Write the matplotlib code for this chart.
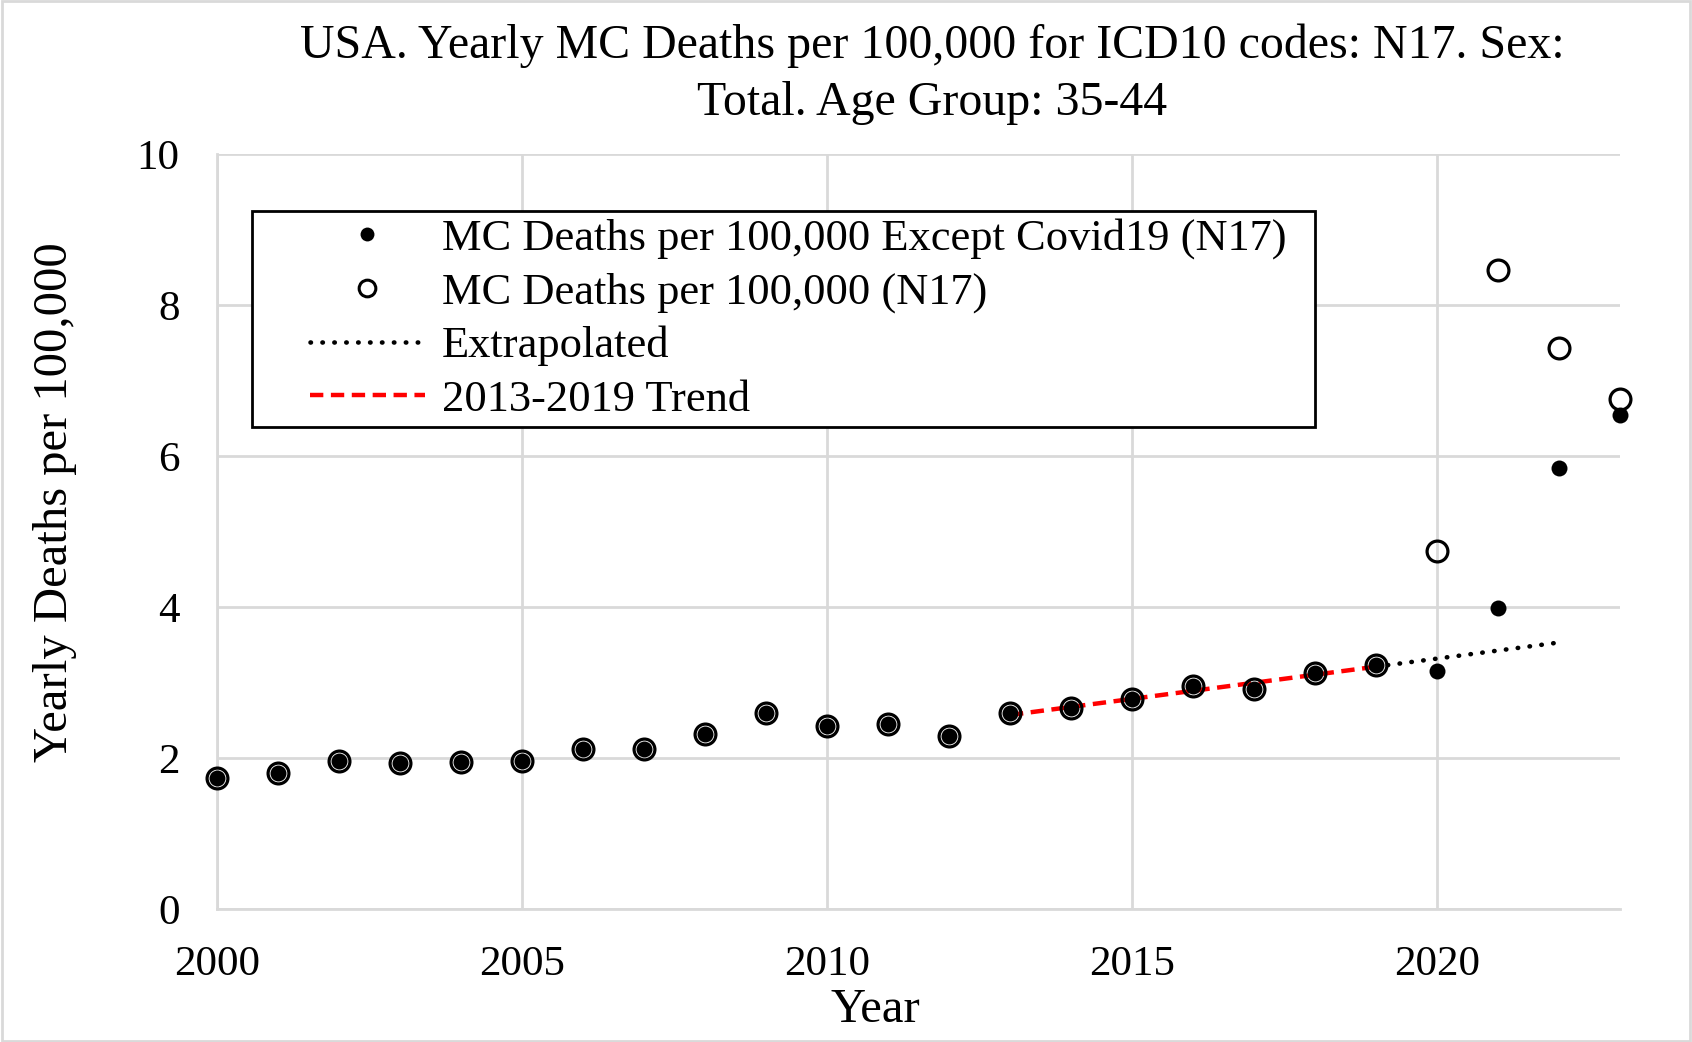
import matplotlib
matplotlib.use("Agg")
import matplotlib.pyplot as plt
from matplotlib.lines import Line2D
from matplotlib.patches import Rectangle
from matplotlib.legend_handler import HandlerLine2D

years = list(range(2000, 2024))
deaths_all = [1.73, 1.80, 1.96, 1.93, 1.95, 1.96, 2.12, 2.12, 2.32, 2.60,
              2.42, 2.45, 2.29, 2.59, 2.66, 2.78, 2.95, 2.92, 3.13, 3.23,
              4.74, 8.47, 7.43, 6.75]
deaths_ex_covid = [1.73, 1.80, 1.96, 1.93, 1.95, 1.96, 2.12, 2.12, 2.32, 2.60,
                   2.42, 2.45, 2.29, 2.59, 2.66, 2.78, 2.95, 2.92, 3.13, 3.23,
                   3.15, 3.99, 5.84, 6.54]
trend_years = [2013, 2019]
trend_vals = [2.57, 3.21]
extrap_years = [2019, 2022]
extrap_vals = [3.21, 3.53]


class ShiftHandler(HandlerLine2D):
    # leaves an empty gap on the left of the legend handle, like Excel does
    def __init__(self, shift=1.0, **kw):
        super().__init__(**kw)
        self.shift = shift

    def create_artists(self, legend, orig_handle, xdescent, ydescent, width, height, fontsize, trans):
        s = self.shift * fontsize
        return super().create_artists(legend, orig_handle, xdescent - s, ydescent,
                                      width - s, height, fontsize, trans)


plt.rcParams['font.family'] = ['Liberation Serif', 'DejaVu Serif']

fig = plt.figure(figsize=(16.92, 10.42), dpi=100)
ax = fig.add_axes([0.1283, 0.1276, 0.9574 - 0.1283, 0.8522 - 0.1276])

grid_c = '#d9d9d9'
dots = (0, (0.1, 2.5))
dashes = (0, (3.0, 1.7))
ax.plot(extrap_years, extrap_vals, color='black', lw=3.3,
        linestyle=dots, dash_capstyle='round', zorder=2)
ax.plot(trend_years, trend_vals, color='#ff0000', lw=3.2,
        linestyle=dashes, zorder=2)
ax.plot(years, deaths_ex_covid, 'o', color='black', ms=11.5, mew=0,
        linestyle='none', zorder=3, clip_on=False)
ax.plot(years, deaths_all, 'o', mfc='none', mec='black', ms=15, mew=2.3,
        linestyle='none', zorder=4, clip_on=False)

ax.set_xlim(2000, 2023)
ax.set_ylim(0, 10)
ax.set_xticks([2000, 2005, 2010, 2015, 2020])
ax.set_yticks([0, 2, 4, 6, 8, 10])
ax.grid(True, color=grid_c, lw=2)
ax.set_axisbelow(True)
for s in ['top', 'right']:
    ax.spines[s].set_visible(False)
for s in ['left', 'bottom']:
    ax.spines[s].set_color(grid_c)
    ax.spines[s].set_linewidth(2)
ax.tick_params(length=0, labelsize=31)
ax.tick_params(axis='x', pad=26)
ax.tick_params(axis='y', pad=27)
ax.set_xlabel('Year', fontsize=35)
ax.set_ylabel('Yearly Deaths per 100,000', fontsize=35)
ax.xaxis.set_label_coords(0.469, -0.105)
ax.yaxis.set_label_coords(-0.100, 0.539)

fig.suptitle('USA. Yearly MC Deaths per 100,000 for ICD10 codes: N17. Sex:\nTotal. Age Group: 35-44',
             fontsize=34.5, x=0.551, y=0.977, linespacing=1.38)

handles = [
    Line2D([], [], marker='o', color='black', ms=10, mew=0, linestyle='none'),
    Line2D([], [], marker='o', mfc='none', mec='black', ms=12, mew=2.2, linestyle='none'),
    Line2D([], [], color='black', lw=3.3, linestyle=dots, dash_capstyle='round'),
    Line2D([], [], color='#ff0000', lw=3.2, linestyle=dashes),
]
labels = ['MC Deaths per 100,000 Except Covid19 (N17)  ', 'MC Deaths per 100,000 (N17)',
          'Extrapolated', '2013-2019 Trend']
leg = ax.legend(handles, labels, loc='upper left', bbox_to_anchor=(252 / 1692, 1 - 211 / 1042),
                bbox_transform=fig.transFigure, fontsize=32, frameon=True, fancybox=False,
                framealpha=1, edgecolor='black', handlelength=3.74, handletextpad=0.38,
                labelspacing=0.3, borderpad=0.15, borderaxespad=0,
                handler_map={Line2D: ShiftHandler(shift=1.15)})
leg.get_frame().set_linewidth(2)

fig.add_artist(Rectangle((0.001, 0.001), 0.998, 0.998, transform=fig.transFigure,
                         fill=False, edgecolor=grid_c, lw=2))

fig.savefig('out.png', dpi=100)
